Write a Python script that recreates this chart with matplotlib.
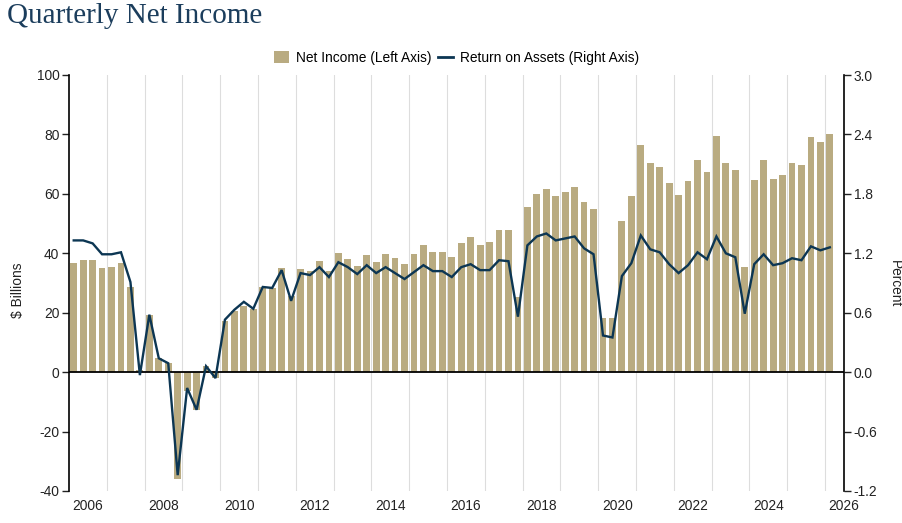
import matplotlib
matplotlib.use("Agg")
import matplotlib.pyplot as plt
from matplotlib.lines import Line2D
from matplotlib.patches import Patch

# quarterly series, 2006 Q1 .. 2026 Q1
years = list(range(2006, 2027))
quarters = [(y, q) for y in years for q in (1, 2, 3, 4)][:81]

net_income = [
    36.6, 37.7, 37.7, 35.0,
    35.4, 36.6, 28.5, 0.6,
    19.2, 4.6, 3.1, -35.8,
    -6.3, -12.8, 2.1, -1.9,
    17.3, 20.7, 22.2, 21.1,
    28.5, 28.3, 34.9, 25.5,
    34.6, 34.2, 37.3, 34.2,
    40.2, 38.0, 35.8, 39.5,
    37.1, 39.9, 38.3, 36.3,
    39.7, 42.8, 40.3, 40.4,
    38.8, 43.4, 45.4, 42.8,
    43.7, 47.9, 47.7, 25.2,
    55.7, 60.0, 61.7, 59.3,
    60.5, 62.3, 57.2, 54.8,
    18.1, 18.1, 51.0, 59.3,
    76.5, 70.3, 69.2, 63.8,
    59.7, 64.4, 71.5, 67.5,
    79.6, 70.5, 68.1, 35.5,
    64.5, 71.3, 65.0, 66.5,
    70.3, 69.8, 79.1, 77.5,
    80.3,
]

roa = [
    1.33, 1.33, 1.30, 1.19,
    1.19, 1.21, 0.91, -0.03,
    0.58, 0.14, 0.09, -1.04,
    -0.16, -0.38, 0.06, -0.06,
    0.53, 0.63, 0.71, 0.64,
    0.86, 0.85, 1.03, 0.72,
    1.00, 0.98, 1.06, 0.96,
    1.11, 1.06, 0.99, 1.08,
    1.00, 1.06, 1.00, 0.94,
    1.01, 1.08, 1.02, 1.02,
    0.96, 1.06, 1.09, 1.03,
    1.03, 1.13, 1.12, 0.56,
    1.28, 1.37, 1.40, 1.33,
    1.35, 1.37, 1.25, 1.19,
    0.37, 0.35, 0.97, 1.10,
    1.38, 1.24, 1.21, 1.09,
    1.00, 1.08, 1.21, 1.14,
    1.37, 1.20, 1.16, 0.59,
    1.09, 1.19, 1.08, 1.10,
    1.15, 1.13, 1.27, 1.23,
    1.26,
]

left_ticks = [-40, -20, 0, 20, 40, 60, 80, 100]
right_ticks = [-1.2, -0.6, 0.0, 0.6, 1.2, 1.8, 2.4, 3.0]
year_labels = list(range(2006, 2027, 2))

BAR_COLOR = "#b9ab81"
LINE_COLOR = "#0c3653"
TITLE_COLOR = "#1b3d5c"
TEXT_COLOR = "#222222"

plt.rcParams["font.family"] = ["Liberation Sans", "DejaVu Sans"]
plt.rcParams["font.size"] = 9.9

W, H = 903, 523
fig = plt.figure(figsize=(W / 100, H / 100), dpi=100)
x0, x1, y0, y1 = 69, 844, 75, 491
ax = fig.add_axes([x0 / W, 1 - y1 / H, (x1 - x0) / W, (y1 - y0) / H])
ax2 = ax.twinx()

# bar centre sits in the middle of its quarter
xs = [y + (q - 1) / 4 + 0.125 for y, q in quarters]

for yr in range(2007, 2027):
    ax.axvline(yr, color="#dddddd", lw=0.8, zorder=0)

ax.bar(xs, net_income, width=0.18, color=BAR_COLOR, zorder=2)
ax.axhline(0, color="black", lw=1.3, zorder=3)
ax2.plot(xs, roa, color=LINE_COLOR, lw=1.7, solid_joinstyle="miter", zorder=4)

ax.set_xlim(2006.0, 2026.27)
ax.set_ylim(-40, 100)
ax2.set_ylim(-1.2, 3.0)

ax.set_yticks(left_ticks)
ax.set_yticklabels([str(v) for v in left_ticks])
ax2.set_yticks(right_ticks)
ax2.set_yticklabels([f"{v:.1f}" for v in right_ticks])
ax.set_xticks([y + 0.5 for y in year_labels])
ax.set_xticklabels([str(y) for y in year_labels])

ax.tick_params(axis="x", length=0, pad=6, colors=TEXT_COLOR)
ax.tick_params(axis="y", direction="out", length=5, width=1, pad=2, colors=TEXT_COLOR)
ax2.tick_params(axis="y", direction="out", length=5, width=1, pad=2, colors=TEXT_COLOR)

for a in (ax, ax2):
    a.spines["top"].set_visible(False)
    a.spines["bottom"].set_visible(False)
ax.spines["right"].set_visible(False)
ax2.spines["left"].set_visible(False)
ax.spines["left"].set_linewidth(1.2)
ax2.spines["right"].set_linewidth(1.2)

fig.text(18 / W, 1 - 290 / H, r"\$ Billions", rotation=90, ha="center", va="center", color=TEXT_COLOR)
fig.text(895 / W, 1 - 284 / H, "Percent", rotation=270, ha="center", va="center", color=TEXT_COLOR)

fig.text(7 / W, 1 - 3 / H, "Quarterly Net Income", ha="left", va="top",
         family="Liberation Serif", fontsize=21, color=TITLE_COLOR)

handles = [Patch(facecolor=BAR_COLOR, edgecolor="none"), Line2D([], [], color=LINE_COLOR, lw=2)]
fig.legend(handles, ["Net Income (Left Axis)", "Return on Assets (Right Axis)"],
           loc="center", bbox_to_anchor=((x0 + x1) / 2 / W, 1 - 58 / H), ncol=2,
           frameon=False, handlelength=1.1, handleheight=1.0, handletextpad=0.5,
           columnspacing=0.5)

fig.savefig("out.png", dpi=100)
